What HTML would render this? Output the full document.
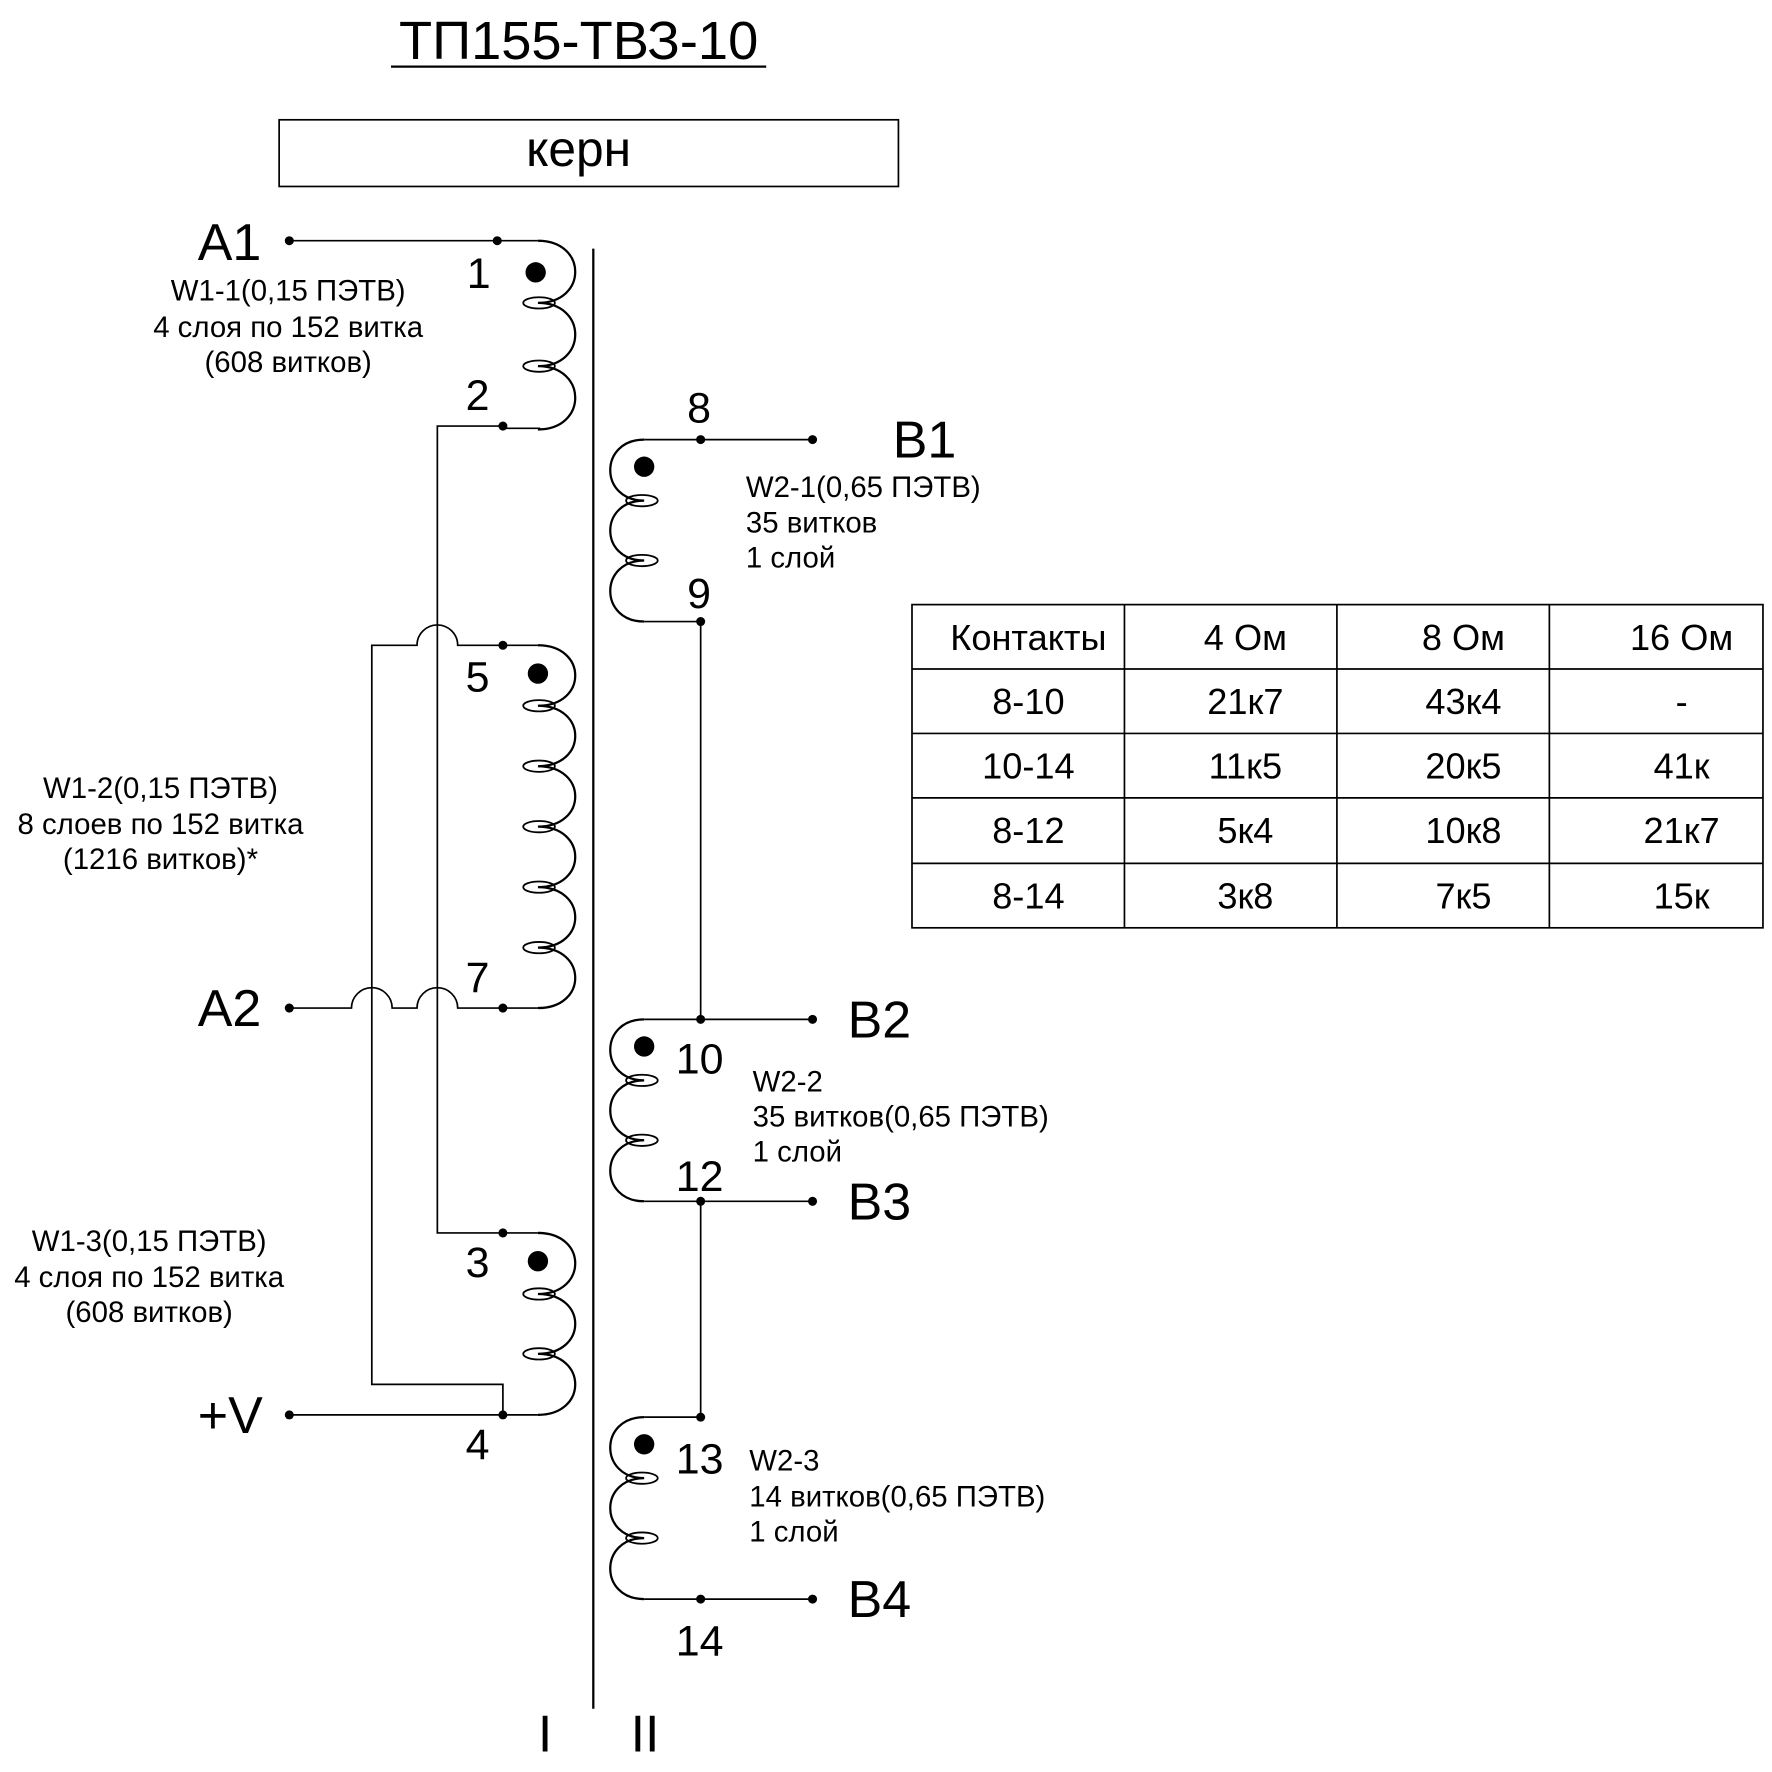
<!DOCTYPE html>
<html><head><meta charset="utf-8"><style>html,body{margin:0;padding:0;background:#fff}svg{display:block}</style></head>
<body>
<svg width="1772" height="1772" viewBox="0 0 1568 1568" xmlns="http://www.w3.org/2000/svg" font-family="'Liberation Sans', sans-serif">
<g fill="none" stroke="#000" stroke-width="2">
<line x1="525" y1="220" x2="525" y2="1512"/>
<path d="M476 213 C520 213 520 268 476 268 C520 268 520 324 476 324 C520 324 520 380 476 380"/>
<path d="M476 571 C520 571 520 624.5 476 624.5 C520 624.5 520 678 476 678 C520 678 520 731.5 476 731.5 C520 731.5 520 785 476 785 C520 785 520 838.5 476 838.5 C520 838.5 520 892 476 892"/>
<path d="M476 1091 C520 1091 520 1145 476 1145 C520 1145 520 1198 476 1198 C520 1198 520 1252 476 1252"/>
<g stroke-width="1.6">
<ellipse cx="477" cy="268" rx="14" ry="5"/><ellipse cx="477" cy="324" rx="14" ry="5"/>
<ellipse cx="477" cy="624.5" rx="14" ry="5"/><ellipse cx="477" cy="678" rx="14" ry="5"/><ellipse cx="477" cy="731.5" rx="14" ry="5"/><ellipse cx="477" cy="785" rx="14" ry="5"/><ellipse cx="477" cy="838.5" rx="14" ry="5"/>
<ellipse cx="477" cy="1145" rx="14" ry="5"/><ellipse cx="477" cy="1198" rx="14" ry="5"/>
</g>
<path d="M570 389 C530 389 530 443 570 443 C530 443 530 496 570 496 C530 496 530 550 570 550"/>
<path d="M570 902 C530 902 530 956 570 956 C530 956 530 1009 570 1009 C530 1009 530 1063 570 1063"/>
<path d="M570 1254 C530 1254 530 1308 570 1308 C530 1308 530 1361 570 1361 C530 1361 530 1415 570 1415"/>
<g stroke-width="1.6">
<ellipse cx="568" cy="443" rx="14" ry="5"/><ellipse cx="568" cy="496" rx="14" ry="5"/>
<ellipse cx="568" cy="956" rx="14" ry="5"/><ellipse cx="568" cy="1009" rx="14" ry="5"/>
<ellipse cx="568" cy="1308" rx="14" ry="5"/><ellipse cx="568" cy="1361" rx="14" ry="5"/>
</g>
<g stroke-width="1.5">
<path d="M256 213 H476"/>
<path d="M478 379 H445 V377 H387 V1091 H476"/>
<path d="M476 571 H405 A18 18 0 0 0 369 571 H329 V1225 H445 V1252"/>
<path d="M256 892 H311 A18 18 0 0 1 347 892 H369 A18 18 0 0 1 405 892 H476"/>
<path d="M256 1252 H476"/>
<path d="M570 389 H719"/>
<path d="M570 550 H620 V902"/>
<path d="M570 902 H719"/>
<path d="M570 1063 H719"/>
<path d="M620 1063 V1254 H570"/>
<path d="M570 1415 H719"/>
</g>
<rect x="247" y="106" width="548" height="59" stroke-width="1.5"/>
<line x1="346" y1="59" x2="678" y2="59" stroke-width="2"/>
<g stroke-width="1.5">
<rect x="807" y="535" width="753" height="286"/>
<line x1="995" y1="535" x2="995" y2="821"/><line x1="1183" y1="535" x2="1183" y2="821"/><line x1="1371" y1="535" x2="1371" y2="821"/>
<line x1="807" y1="592" x2="1560" y2="592"/><line x1="807" y1="649" x2="1560" y2="649"/><line x1="807" y1="706" x2="1560" y2="706"/><line x1="807" y1="764" x2="1560" y2="764"/>
</g>
</g>
<g fill="#000">
<circle cx="256" cy="213" r="4"/><circle cx="440" cy="213" r="4"/><circle cx="445" cy="377" r="4"/>
<circle cx="445" cy="571" r="4"/><circle cx="256" cy="892" r="4"/><circle cx="445" cy="892" r="4"/>
<circle cx="445" cy="1091" r="4"/><circle cx="256" cy="1252" r="4"/><circle cx="445" cy="1252" r="4"/>
<circle cx="620" cy="389" r="4"/><circle cx="719" cy="389" r="4"/><circle cx="620" cy="550" r="4"/>
<circle cx="620" cy="902" r="4"/><circle cx="719" cy="902" r="4"/><circle cx="620" cy="1063" r="4"/><circle cx="719" cy="1063" r="4"/>
<circle cx="620" cy="1254" r="4"/><circle cx="620" cy="1415" r="4"/><circle cx="719" cy="1415" r="4"/>
<circle cx="474" cy="241" r="9"/><circle cx="476" cy="596" r="9"/><circle cx="476" cy="1116" r="9"/>
<circle cx="570" cy="413" r="9"/><circle cx="570" cy="926" r="9"/><circle cx="570" cy="1278" r="9"/>

<text x="512" y="52" font-size="48" text-anchor="middle">ТП155-ТВЗ-10</text>
<text x="512" y="147" font-size="44" text-anchor="middle">керн</text>

<g font-size="46">
<text x="175" y="230">A1</text><text x="175" y="908">A2</text><text x="175" y="1268">+V</text>
<text x="790" y="405">B1</text><text x="750" y="918">B2</text><text x="750" y="1079">B3</text><text x="750" y="1431">B4</text>
<text x="476" y="1550">I</text><text x="558" y="1550">II</text>
</g>
<g font-size="38">
<text x="413" y="255">1</text><text x="412" y="363">2</text><text x="412" y="612">5</text><text x="412" y="878">7</text>
<text x="412" y="1130">3</text><text x="412" y="1291">4</text>
<text x="608" y="374">8</text><text x="608" y="538">9</text><text x="598" y="950">10</text><text x="598" y="1054">12</text>
<text x="598" y="1304">13</text><text x="598" y="1465">14</text>
</g>
<g font-size="26" text-anchor="middle">
<text x="255" y="266">W1-1(0,15 ПЭТВ)</text><text x="255" y="298">4 слоя по 152 витка</text><text x="255" y="329">(608 витков)</text>
<text x="142" y="706">W1-2(0,15 ПЭТВ)</text><text x="142" y="738">8 слоев по 152 витка</text><text x="142" y="769">(1216 витков)*</text>
<text x="132" y="1107">W1-3(0,15 ПЭТВ)</text><text x="132" y="1139">4 слоя по 152 витка</text><text x="132" y="1170">(608 витков)</text>
</g>
<g font-size="26">
<text x="660" y="440">W2-1(0,65 ПЭТВ)</text><text x="660" y="471">35 витков</text><text x="660" y="502">1 слой</text>
<text x="666" y="966">W2-2</text><text x="666" y="997">35 витков(0,65 ПЭТВ)</text><text x="666" y="1028">1 слой</text>
<text x="663" y="1301">W2-3</text><text x="663" y="1333">14 витков(0,65 ПЭТВ)</text><text x="663" y="1364">1 слой</text>
</g>
<g font-size="32" text-anchor="middle">
<text x="910" y="575">Контакты</text><text x="1102" y="575">4 Ом</text><text x="1295" y="575">8 Ом</text><text x="1488" y="575">16 Ом</text>
<text x="910" y="632">8-10</text><text x="1102" y="632">21к7</text><text x="1295" y="632">43к4</text><text x="1488" y="632">-</text>
<text x="910" y="689">10-14</text><text x="1102" y="689">11к5</text><text x="1295" y="689">20к5</text><text x="1488" y="689">41к</text>
<text x="910" y="746">8-12</text><text x="1102" y="746">5к4</text><text x="1295" y="746">10к8</text><text x="1488" y="746">21к7</text>
<text x="910" y="804">8-14</text><text x="1102" y="804">3к8</text><text x="1295" y="804">7к5</text><text x="1488" y="804">15к</text>
</g>
</g>
</svg>
</body></html>
